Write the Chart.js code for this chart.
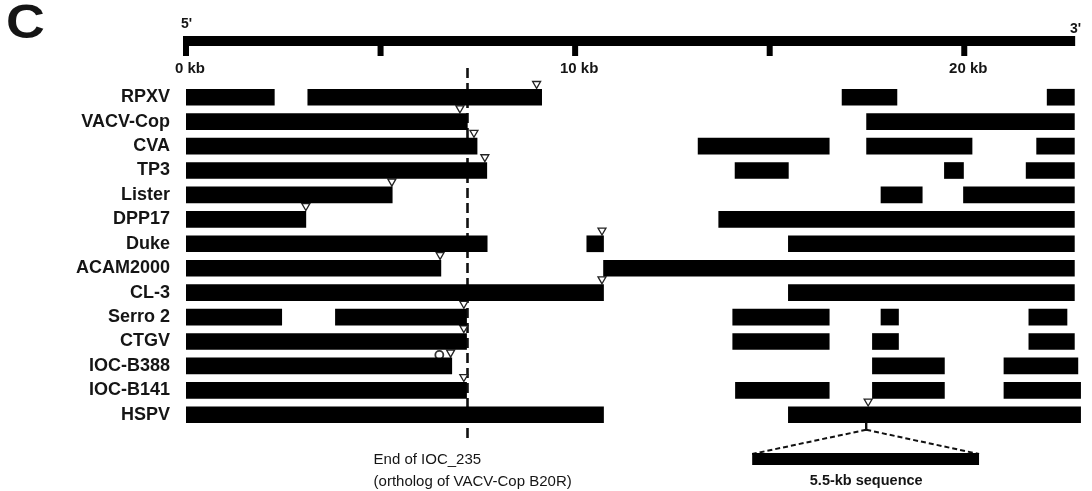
<!DOCTYPE html>
<html><head><meta charset="utf-8">
<script src="https://cdn.jsdelivr.net/npm/chart.js@4.4.0/dist/chart.umd.min.js"></script>
<style>html,body{margin:0;padding:0;background:#fff}#wrap{width:1092px;height:491px;position:relative}</style>
</head><body><div id="wrap"><canvas id="c"></canvas></div>
<script>
const genomes = ['RPXV','VACV-Cop','CVA','TP3','Lister','DPP17','Duke','ACAM2000','CL-3','Serro 2','CTGV','IOC-B388','IOC-B141','HSPV'];
// conserved segments [start, end] in kb, per genome
const segRPXV     = [[0,2.27],[3.13,9.14],[16.86,18.27],[22.13,22.83]];
const segVACVCop  = [[0,7.23],[17.49,22.83]];
const segCVA      = [[0,7.48],[13.16,16.53],[17.49,20.20],[21.86,22.83]];
const segTP3      = [[0,7.73],[14.11,15.48],[19.49,19.98],[21.59,22.83]];
const segLister   = [[0,5.30],[17.86,18.92],[19.98,22.83]];
const segDPP17    = [[0,3.08],[13.69,22.83]];
const segDuke     = [[0,7.74],[10.30,10.73],[15.48,22.83]];
const segACAM2000 = [[0,6.55],[10.73,22.83]];
const segCL3      = [[0,10.73],[15.48,22.83]];
const segSerro2   = [[0,2.46],[3.84,7.21],[14.05,16.53],[17.86,18.31],[21.66,22.64]];
const segCTGV     = [[0,7.21],[14.05,16.53],[17.64,18.31],[21.66,22.83]];
const segIOCB388  = [[0,6.83],[17.64,19.49],[21.02,22.92]];
const segIOCB141  = [[0,7.21],[14.12,16.53],[17.64,19.49],[21.02,22.99]];
const segHSPV     = [[0,10.73],[15.48,22.99]];
// open triangle markers (kb), one per genome
const triangleKb = [9.01,7.04,7.40,7.68,5.29,3.08,10.69,6.53,10.69,7.14,7.14,6.80,7.14,17.53];
// open circle marker
const circleGenome = 'IOC-B388';
const circleKb = 6.51;
// top scale
const scaleTicks = [0,5,10,15,20];
const scaleLabels = ['0 kb','','10 kb','','20 kb'];
const genomeLengthKb = 22.85;
// annotations
const endIOC235Kb = 7.21;
const insertSiteKb = 17.48;
const insertBarKb = [14.55, 20.38];

const FONT = '"Liberation Sans", Arial, Helvetica, sans-serif';
const INK = '#151515';

const allSegs = [segRPXV,segVACVCop,segCVA,segTP3,segLister,segDPP17,segDuke,segACAM2000,segCL3,segSerro2,segCTGV,segIOCB388,segIOCB141,segHSPV];
const maxSeg = Math.max(...allSegs.map(s => s.length));
const datasets = [];
for (let k = 0; k < maxSeg; k++) {
  datasets.push({
    type: 'bar', label: 'segment ' + (k + 1),
    data: allSegs.map(s => s[k] || null),
    backgroundColor: '#000', borderWidth: 0, barThickness: 16,
    grouped: false, xAxisID: 'x', yAxisID: 'y'
  });
}
datasets.push({
  type: 'scatter', label: 'markers', indexAxis: 'x', xAxisID: 'x', yAxisID: 'y2', clip: false,
  data: triangleKb.map((v, i) => ({x: v, y: i - 0.55})),
  pointStyle: 'triangle', rotation: 180, radius: 4.6, hoverRadius: 4.6,
  backgroundColor: '#fff', borderColor: '#222', borderWidth: 1.3
});
datasets.push({
  type: 'scatter', label: 'circle', indexAxis: 'x', xAxisID: 'x', yAxisID: 'y2', clip: false,
  data: [{x: circleKb, y: genomes.indexOf(circleGenome) - 0.45}],
  pointStyle: 'circle', radius: 4, hoverRadius: 4,
  backgroundColor: '#fff', borderColor: '#333', borderWidth: 1.8
});

const decor = {
  id: 'decor',
  beforeDatasetsDraw(chart) {
    const ctx = chart.ctx, x = chart.scales.x;
    const px = Math.round(x.getPixelForValue(endIOC235Kb)) + 0.5;
    ctx.save();
    ctx.strokeStyle = '#111'; ctx.lineWidth = 2.6; ctx.setLineDash([10, 5]);
    ctx.beginPath(); ctx.moveTo(px, 68); ctx.lineTo(px, 442); ctx.stroke();
    ctx.restore();
  },
  afterDraw(chart) {
    const ctx = chart.ctx, x = chart.scales.x, y = chart.scales.y;
    ctx.save();
    // top scale bar
    ctx.fillStyle = '#000';
    const x0 = x.getPixelForValue(0), x1 = x.getPixelForValue(genomeLengthKb);
    ctx.fillRect(x0 - 3, 36, x1 - x0 + 3, 10);
    scaleTicks.forEach(t => {
      const p = x.getPixelForValue(t);
      ctx.fillRect(p - 3, 45, 6, 11);
    });
    // panel letter and ends
    ctx.fillStyle = INK;
    ctx.textBaseline = 'alphabetic';
    ctx.save();
    ctx.translate(6, 38); ctx.scale(1.12, 1);
    ctx.font = 'bold 48px ' + FONT; ctx.textAlign = 'left';
    ctx.fillText('C', 0, 0);
    ctx.restore();
    ctx.font = 'bold 14px ' + FONT; ctx.textAlign = 'left';
    ctx.fillText("5'", x0 - 5, 28);
    ctx.textAlign = 'right';
    ctx.fillText("3'", x1 + 6, 33);
    // insertion in HSPV
    const rowY = y.getPixelForValue(genomes.length - 1);
    const sx = x.getPixelForValue(insertSiteKb);
    const bx0 = x.getPixelForValue(insertBarKb[0]), bx1 = x.getPixelForValue(insertBarKb[1]);
    ctx.fillStyle = '#111';
    ctx.fillRect(sx - 1.2, rowY + 8, 2.4, 8);
    ctx.strokeStyle = '#111'; ctx.lineWidth = 2; ctx.setLineDash([5, 3]);
    ctx.beginPath(); ctx.moveTo(sx, rowY + 15); ctx.lineTo(bx0, 454); ctx.stroke();
    ctx.beginPath(); ctx.moveTo(sx, rowY + 15); ctx.lineTo(bx1, 454); ctx.stroke();
    ctx.setLineDash([]);
    ctx.fillStyle = '#000';
    ctx.fillRect(bx0, 453, bx1 - bx0, 12);
    ctx.fillStyle = INK; ctx.textAlign = 'center'; ctx.textBaseline = 'middle';
    ctx.font = 'bold 14.5px ' + FONT;
    ctx.fillText('5.5-kb sequence', sx, 481);
    // dashed-line caption
    const ex = x.getPixelForValue(endIOC235Kb);
    ctx.textAlign = 'left';
    ctx.font = '15px ' + FONT;
    ctx.fillText('End of IOC_235', ex - 93, 460);
    ctx.fillText('(ortholog of VACV-Cop B20R)', ex - 93, 482);
    ctx.restore();
  }
};

new Chart(document.getElementById('c'), {
  data: { labels: genomes, datasets },
  options: {
    indexAxis: 'y', responsive: true, maintainAspectRatio: false, animation: false,
    layout: { padding: { top: 55, left: 0, right: 11, bottom: 64 } },
    plugins: { legend: { display: false }, tooltip: { enabled: false } },
    scales: {
      x: {
        type: 'linear', position: 'top', min: 0, max: 23,
        afterFit: s => { s.height = 30; },
        grid: { display: false, drawTicks: false }, border: { display: false },
        ticks: {
          stepSize: 5, padding: 7, labelOffset: 4, color: INK, maxRotation: 0, autoSkip: false,
          font: { family: FONT, size: 15, weight: 'bold' },
          callback: v => { const i = scaleTicks.indexOf(v); return i >= 0 ? scaleLabels[i] : ''; }
        }
      },
      y: {
        type: 'category', position: 'left', offset: true,
        afterFit: s => { s.width = 186; },
        grid: { display: false, drawTicks: false }, border: { display: false },
        ticks: { padding: 16, autoSkip: false, color: INK, font: { family: FONT, size: 18, weight: 'bold' } }
      },
      y2: { type: 'linear', display: false, min: -0.5, max: genomes.length - 0.5, reverse: true }
    }
  },
  plugins: [decor]
});
</script>
</body></html>
